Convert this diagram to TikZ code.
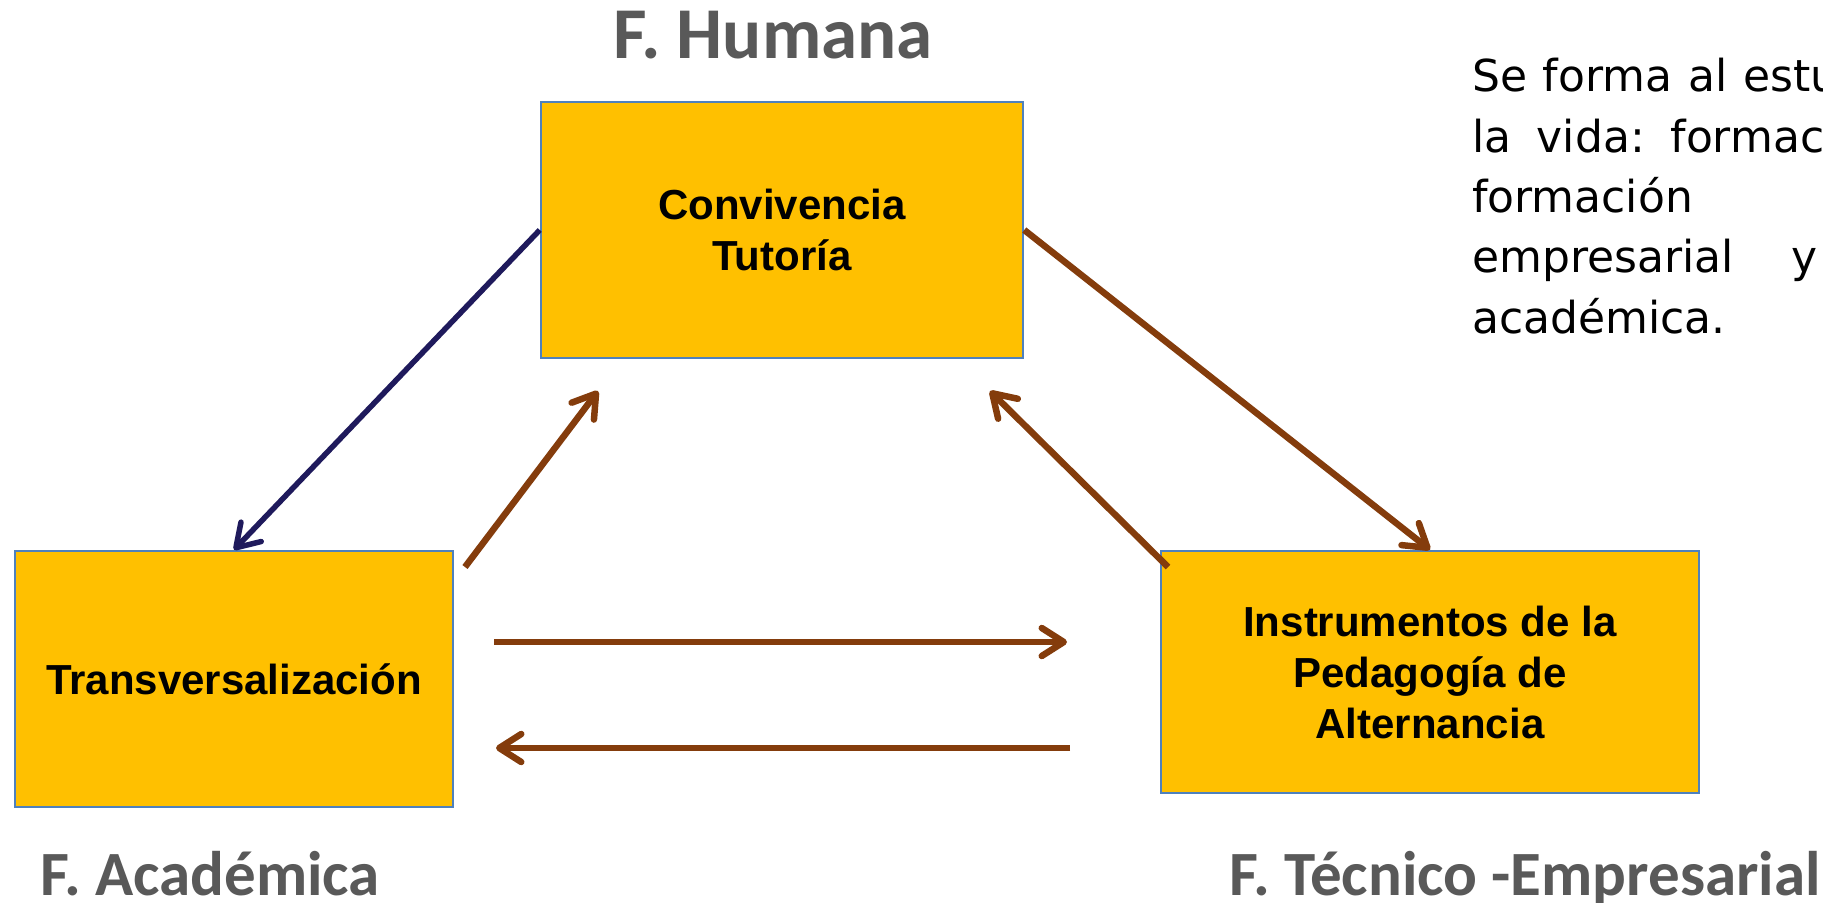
\documentclass[tikz,border=0pt]{standalone}
\usepackage{fontspec}
\setmainfont{Liberation Sans}
\newfontfamily\titlefont{Carlito}
\newfontfamily\notefont{DejaVu Sans}
\usetikzlibrary{arrows.meta}
\definecolor{boxfill}{HTML}{FFC000}
\definecolor{boxline}{HTML}{4F81BD}
\definecolor{brownline}{HTML}{843C0C}
\definecolor{navyline}{HTML}{1F1A5C}
\definecolor{titlegray}{HTML}{595959}
\begin{document}
\begin{tikzpicture}[x=1bp,y=-1bp,
  fbox/.style={draw=boxline,line width=2.5bp,fill=boxfill,inner sep=0pt,align=center,
    font=\bfseries\fontsize{42bp}{51bp}\selectfont},
  bigtitle/.style={text=titlegray,font=\titlefont\bfseries\fontsize{73bp}{80bp}\selectfont,inner sep=0pt,anchor=base},
  lowtitle/.style={text=titlegray,font=\titlefont\bfseries\fontsize{63bp}{70bp}\selectfont,inner sep=0pt},
  noteline/.style={font=\notefont\fontsize{44bp}{60bp}\selectfont,inner sep=0pt,anchor=base west},
  brownarrow/.style={line width=6.5bp,draw=brownline,
    -{Straight Barb[length=22bp,width=28bp,line cap=round,line join=round]}},
  navyarrow/.style={line width=5.5bp,draw=navyline,
    -{Straight Barb[length=22bp,width=28bp,line cap=round,line join=round]}}
]
\useasboundingbox (0,0) rectangle (1823,903);
\fill[white] (0,0) rectangle (1823,903);

% boxes
\node[fbox,minimum width=482bp,minimum height=256bp] (top) at (782,230) {Convivencia\\Tutoría};
\node[fbox,minimum width=438bp,minimum height=256bp] (left) at (234,679) {Transversalización};
\node[fbox,minimum width=538bp,minimum height=242bp] (right) at (1430,672) {Instrumentos de la\\Pedagogía de\\Alternancia};

% titles
\node[bigtitle] (th) at (773,58) {F. Humana};
\node[lowtitle,anchor=base west] (ta) at (40,895) {F. Académica};
\node[lowtitle,anchor=base east] (tt) at (1821,895) {F. Técnico -Empresarial};

% note text
\node[noteline] (n1) at (1472,91) {\hbox to 366bp{Se\hfill forma\hfill al\hfill estu}};
\node[noteline] (n2) at (1472,152) {\hbox to 352bp{la\hfill vida:\hfill formac}};
\node[noteline] (n3) at (1472,212) {formación};
\node[noteline] (n4) at (1472,272) {\hbox to 345bp{empresarial\hfill y}};
\node[noteline] (n5) at (1472,333) {académica.};

% connectors
\draw[navyarrow] (top.west) -- (left.north);
\draw[brownarrow] (top.east) -- (right.north);

\coordinate (a1) at (465,567);
\coordinate (a2) at (598,391);
\draw[brownarrow] (a1) -- (a2);

\coordinate (b1) at (1168,567);
\coordinate (b2) at (990,391);
\draw[brownarrow] (b1) -- (b2);

\coordinate (c1) at (494,642);
\coordinate (c2) at (1067,642);
\draw[brownarrow] (c1) -- (c2);

\coordinate (d1) at (1070,748);
\coordinate (d2) at (496,748);
\draw[brownarrow] (d1) -- (d2);
\end{tikzpicture}
\end{document}
